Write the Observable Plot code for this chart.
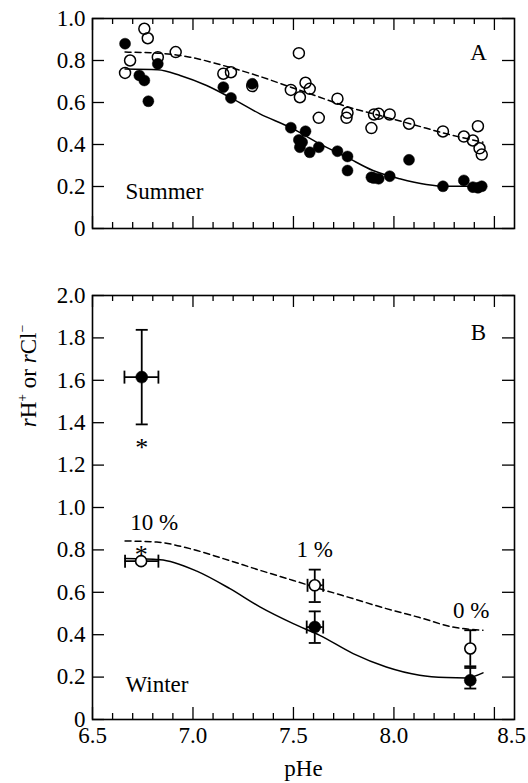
<!DOCTYPE html>
<html><head><meta charset="utf-8">
<script src="https://cdn.jsdelivr.net/npm/d3@7"></script>
<script src="https://cdn.jsdelivr.net/npm/@observablehq/plot@0.6"></script>
<style>
body{margin:0;background:#fff;}
#fig{position:relative;width:528px;height:783px;font-family:"Liberation Serif","Tinos","Nimbus Roman","DejaVu Serif",serif;}
#fig svg{display:block;}
#fig svg text{font-family:"Liberation Serif","Tinos","Nimbus Roman","DejaVu Serif",serif !important;}
#ytitle{position:absolute;left:28px;top:376px;transform:translate(-50%,-50%) rotate(-90deg);font-size:23px;white-space:nowrap;line-height:1;z-index:2;}
#ytitle sup{font-size:0.6em;vertical-align:0.6em;line-height:0;}
</style></head><body>
<div id="fig"><div id="ytitle"><i>r</i>H<sup>+</sup> or <i>r</i>Cl<sup>−</sup></div></div>
<script>
// ---- axis tick values ----
const xMajor = [6.5, 7.0, 7.5, 8.0, 8.5];
const xMinor = [6.6, 6.7, 6.8, 6.9, 7.1, 7.2, 7.3, 7.4, 7.6, 7.7, 7.8, 7.9, 8.1, 8.2, 8.3, 8.4];
const xLabels = [6.5, 7.0, 7.5, 8.0];
const yTicksTop = [0, 0.2, 0.4, 0.6, 0.8, 1.0];
const yTicksBottom = [0, 0.2, 0.4, 0.6, 0.8, 1.0, 1.2, 1.4, 1.6, 1.8, 2.0];

// ---- Panel A (Summer) ----
const summerOpenX = [6.662,6.687,6.758,6.775,6.825,6.914,7.151,7.189,7.295,7.487,7.527,7.532,7.560,7.581,7.626,7.719,7.764,7.769,7.888,7.901,7.924,7.979,8.075,8.244,8.348,8.393,8.418,8.426,8.437];
const summerOpenY = [0.741,0.800,0.951,0.906,0.816,0.840,0.737,0.744,0.678,0.660,0.835,0.625,0.694,0.665,0.527,0.618,0.527,0.551,0.478,0.543,0.546,0.543,0.499,0.462,0.438,0.419,0.487,0.382,0.352];
const summerFilledX = [6.662,6.733,6.758,6.778,6.825,7.151,7.189,7.295,7.487,7.527,7.532,7.543,7.560,7.581,7.626,7.719,7.769,7.769,7.888,7.900,7.924,7.979,8.075,8.244,8.348,8.393,8.418,8.437];
const summerFilledY = [0.880,0.729,0.705,0.606,0.784,0.673,0.622,0.689,0.480,0.422,0.387,0.411,0.463,0.363,0.387,0.368,0.343,0.276,0.244,0.240,0.237,0.249,0.327,0.201,0.229,0.197,0.194,0.201];
const fitTopSolidX = [6.662,6.825,6.936,7.068,7.189,7.333,7.487,7.631,7.764,7.896,8.029,8.161,8.261,8.393,8.451];
const fitTopSolidY = [0.760,0.756,0.729,0.681,0.622,0.546,0.480,0.403,0.340,0.276,0.237,0.210,0.201,0.201,0.208];
const fitTopDashX = [6.662,6.825,6.985,7.151,7.317,7.487,7.631,7.764,7.929,8.095,8.261,8.443];
const fitTopDashY = [0.840,0.835,0.816,0.776,0.729,0.673,0.625,0.581,0.538,0.495,0.451,0.411];

// ---- Panel B (Winter) ----
const winterFilledX = [6.745, 7.606, 8.380];
const winterFilledY = [1.615, 0.436, 0.185];
const winterFilledYlo = [1.392, 0.361, 0.146];
const winterFilledYhi = [1.838, 0.510, 0.243];
const winterFilledXlo = [6.659, 7.566, null];
const winterFilledXhi = [6.828, 7.648, null];
const winterOpenX = [6.742, 7.606, 8.380];
const winterOpenY = [0.747, 0.633, 0.335];
const winterOpenYlo = [null, 0.554, 0.251];
const winterOpenYhi = [null, 0.707, 0.421];
const winterOpenXlo = [6.662, 7.570, null];
const winterOpenXhi = [6.828, 7.648, null];
const asteriskX = [6.745, 6.742];
const asteriskY = [1.308, 0.803];
const pctText = ["10 %", "1 %", "0 %"];
const pctX = [6.807, 7.606, 8.385];
const pctY = [0.927, 0.803, 0.515];
const fitBotSolidX = [6.662,6.836,7.019,7.184,7.333,7.499,7.631,7.797,7.962,8.128,8.261,8.360,8.443];
const fitBotSolidY = [0.759,0.754,0.700,0.617,0.531,0.452,0.397,0.311,0.248,0.209,0.198,0.196,0.220];
const fitBotDashX = [6.662,6.820,6.985,7.151,7.333,7.499,7.631,7.797,7.962,8.128,8.293,8.443];
const fitBotDashY = [0.842,0.837,0.806,0.759,0.704,0.656,0.617,0.570,0.523,0.481,0.436,0.421];

// ---- helpers ----
const W = 528, ML = 92, MR = 14;
const serif = '"Liberation Serif", "Tinos", "Nimbus Roman", "DejaVu Serif", serif';
const zip = (xs, ys) => xs.map((x, i) => ({x, y: ys[i]}));
const fmtY = d => d === 0 ? "0" : d.toFixed(1);
const hCap = {draw(c) { c.moveTo(-6, 0); c.lineTo(6, 0); }};
const vCap = {draw(c) { c.moveTo(0, -6.5); c.lineTo(0, 6.5); }};
const font = {fontFamily: serif, fontSize: "23px", background: "white", overflow: "visible"};

function frameMarks(height, mt, mb, yTicks) {
  const fh = height - mt - mb, fw = W - ML - MR;
  const s = {stroke: "black", strokeWidth: 1.3};
  return [
    Plot.tickX(xMajor, {x: d => d, insetTop: fh - 12, ...s}),
    Plot.tickX(xMajor, {x: d => d, insetBottom: fh - 12, ...s}),
    Plot.tickX(xMinor, {x: d => d, insetTop: fh - 6, ...s}),
    Plot.tickX(xMinor, {x: d => d, insetBottom: fh - 6, ...s}),
    Plot.tickY(yTicks, {y: d => d, insetRight: fw - 12, ...s}),
    Plot.tickY(yTicks, {y: d => d, insetLeft: fw - 12, ...s}),
    Plot.axisY(yTicks, {anchor: "left", label: null, tickSize: 0, tickPadding: 7, tickFormat: fmtY, fontFamily: serif, fill: "black"}),
    Plot.frame({stroke: "black", strokeWidth: 1.6})
  ];
}

function errorMarks(xs, ys, ylo, yhi, xlo, xhi) {
  const rows = xs.map((x, i) => ({x, y: ys[i], ylo: ylo[i], yhi: yhi[i], xlo: xlo[i], xhi: xhi[i]}));
  const vRows = rows.filter(d => d.ylo != null);
  const hRows = rows.filter(d => d.xlo != null);
  const s = {stroke: "black", strokeWidth: 1.8};
  return [
    Plot.ruleX(vRows, {x: "x", y1: "ylo", y2: "yhi", ...s}),
    Plot.dot(vRows, {x: "x", y: "ylo", symbol: hCap, fill: "none", ...s}),
    Plot.dot(vRows, {x: "x", y: "yhi", symbol: hCap, fill: "none", ...s}),
    Plot.ruleY(hRows, {y: "y", x1: "xlo", x2: "xhi", ...s}),
    Plot.dot(hRows, {x: "xlo", y: "y", symbol: vCap, fill: "none", ...s}),
    Plot.dot(hRows, {x: "xhi", y: "y", symbol: vCap, fill: "none", ...s})
  ];
}

const txt = {fontFamily: serif, fill: "black"};

// ---- top panel ----
const topH = 245, topMT = 18, topMB = 17;
const plotA = Plot.plot({
  width: W, height: topH, marginTop: topMT, marginBottom: topMB, marginLeft: ML, marginRight: MR,
  x: {domain: [6.5, 8.6], axis: null},
  y: {domain: [0, 1], axis: null},
  style: font,
  marks: [
    ...frameMarks(topH, topMT, topMB, yTicksTop),
    Plot.line(zip(fitTopDashX, fitTopDashY), {x: "x", y: "y", curve: "monotone-x", stroke: "black", strokeWidth: 1.5, strokeDasharray: "6,4"}),
    Plot.line(zip(fitTopSolidX, fitTopSolidY), {x: "x", y: "y", curve: "monotone-x", stroke: "black", strokeWidth: 1.5}),
    Plot.dot(zip(summerFilledX, summerFilledY), {x: "x", y: "y", r: 5.5, fill: "black", stroke: "black", strokeWidth: 0.5}),
    Plot.dot(zip(summerOpenX, summerOpenY), {x: "x", y: "y", r: 5.5, fill: "none", stroke: "black", strokeWidth: 1.5}),
    Plot.text(["A"], {text: d => d, frameAnchor: "top-right", textAnchor: "middle", lineAnchor: "middle", dx: -36, dy: 34, ...txt}),
    Plot.text(["Summer"], {text: d => d, frameAnchor: "bottom-left", textAnchor: "start", lineAnchor: "bottom", dx: 33, dy: -30, ...txt})
  ]
});

// ---- bottom panel ----
const botH = 538, botMT = 50, botMB = 64;
const plotB = Plot.plot({
  width: W, height: botH, marginTop: botMT, marginBottom: botMB, marginLeft: ML, marginRight: MR,
  x: {domain: [6.5, 8.6]},
  y: {domain: [0, 2], axis: null},
  style: font,
  marks: [
    ...frameMarks(botH, botMT, botMB, yTicksBottom),
    Plot.axisX(xLabels, {anchor: "bottom", label: null, tickSize: 0, tickPadding: 7, tickFormat: d => d.toFixed(1), fontFamily: serif, fill: "black"}),
    Plot.text(["8.5"], {text: d => d, frameAnchor: "bottom-right", textAnchor: "middle", lineAnchor: "top", dx: -3, dy: 7.5, ...txt}),
    Plot.text(["pHe"], {text: d => d, frameAnchor: "bottom", textAnchor: "middle", lineAnchor: "bottom", dy: 56, ...txt}),
    Plot.line(zip(fitBotDashX, fitBotDashY), {x: "x", y: "y", curve: "monotone-x", stroke: "black", strokeWidth: 1.5, strokeDasharray: "6,4"}),
    Plot.line(zip(fitBotSolidX, fitBotSolidY), {x: "x", y: "y", curve: "monotone-x", stroke: "black", strokeWidth: 1.5}),
    ...errorMarks(winterOpenX, winterOpenY, winterOpenYlo, winterOpenYhi, winterOpenXlo, winterOpenXhi),
    ...errorMarks(winterFilledX, winterFilledY, winterFilledYlo, winterFilledYhi, winterFilledXlo, winterFilledXhi),
    Plot.dot(zip(winterFilledX, winterFilledY), {x: "x", y: "y", r: 6, fill: "black", stroke: "black", strokeWidth: 0.5}),
    Plot.dot(zip(winterOpenX, winterOpenY), {x: "x", y: "y", r: 5.5, fill: "white", stroke: "black", strokeWidth: 1.6}),
    Plot.text(zip(asteriskX, asteriskY), {x: "x", y: "y", text: () => "*", lineAnchor: "middle", dy: 5, fontSize: 26, ...txt}),
    Plot.text(pctText.map((t, i) => ({t, x: pctX[i], y: pctY[i]})), {x: "x", y: "y", text: "t", lineAnchor: "middle", ...txt}),
    Plot.text(["B"], {text: d => d, frameAnchor: "top-right", textAnchor: "middle", lineAnchor: "middle", dx: -36, dy: 37, ...txt}),
    Plot.text(["Winter"], {text: d => d, frameAnchor: "bottom-left", textAnchor: "start", lineAnchor: "bottom", dx: 33, dy: -28, ...txt})
  ]
});

const fig = document.getElementById("fig");
fig.appendChild(plotA);
fig.appendChild(plotB);
</script></body></html>
